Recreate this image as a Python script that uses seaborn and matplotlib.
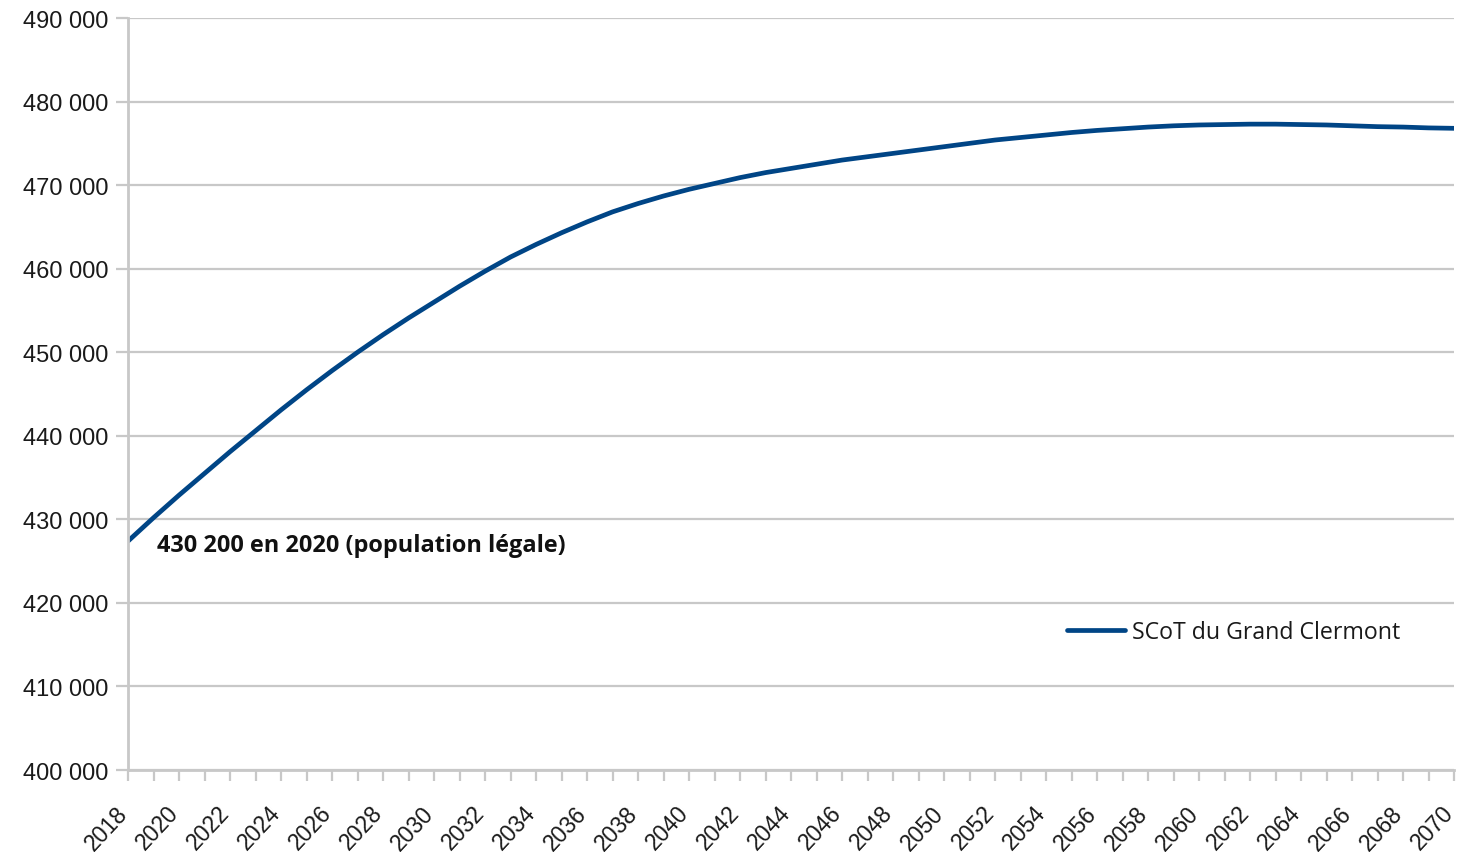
import pandas as pd
import numpy as np
import matplotlib.pyplot as plt
import matplotlib.transforms as mtransforms
import seaborn as sns
from matplotlib.ticker import FuncFormatter, MultipleLocator

years = list(range(2018, 2071))
population = [
    427400, 430200, 432900, 435500, 438100, 440600, 443100, 445500, 447800, 450000,
    452100, 454100, 456000, 457900, 459700, 461400, 462900, 464300, 465600, 466800,
    467800, 468700, 469500, 470200, 470900, 471500, 472000, 472500, 473000, 473400,
    473800, 474200, 474600, 475000, 475400, 475700, 476000, 476300, 476550, 476750,
    476950, 477100, 477200, 477250, 477300, 477300, 477250, 477200, 477100, 477000,
    476950, 476850, 476800,
]
series_name = 'SCoT du Grand Clermont'
note = '430 200 en 2020 (population légale)'

df = pd.DataFrame({'Année': years, 'Population': population, 'Série': series_name})

sns.set_style('white')
plt.rcParams['font.family'] = ['Liberation Sans', 'DejaVu Sans']

fig = plt.figure(figsize=(14.57, 8.53), dpi=100)
ax = fig.add_axes([0.0879, 0.0961, 0.9101, 0.8816])

sns.lineplot(data=df, x='Année', y='Population', hue='Série', palette=['#004586'],
             linewidth=3.4, ax=ax)

GRID = '#c8c8c8'
ax.set_xlim(2018, 2070)
ax.set_ylim(400000, 490000)
ax.yaxis.set_major_locator(MultipleLocator(10000))
ax.yaxis.set_major_formatter(FuncFormatter(lambda v, p: f'{v:,.0f}'.replace(',', ' ')))
ax.xaxis.set_major_locator(MultipleLocator(2))
ax.xaxis.set_minor_locator(MultipleLocator(1))
ax.grid(True, axis='y', color=GRID, linewidth=1.6)
ax.set_axisbelow(True)

for s in ['top', 'right']:
    ax.spines[s].set_visible(False)
for s in ['left', 'bottom']:
    ax.spines[s].set_color(GRID)
    ax.spines[s].set_linewidth(2)

ax.tick_params(axis='y', which='major', length=9, width=1.6, color=GRID, pad=5,
               labelsize=17, labelcolor='#1a1a1a', left=True)
ax.tick_params(axis='x', which='both', length=8, width=1.6, color=GRID, pad=20,
               labelsize=16.5, labelcolor='#1a1a1a', bottom=True)
shift = mtransforms.ScaledTranslation(-4 / 100, 0, fig.dpi_scale_trans)
for lab in ax.get_xticklabels():
    lab.set_rotation(47)
    lab.set_ha('right')
    lab.set_va('center')
    lab.set_rotation_mode('anchor')
    lab.set_transform(lab.get_transform() + shift)
ax.set_xlabel('')
ax.set_ylabel('')

ax.text(2019.15, 426950, note, fontsize=16.9, fontweight='bold', va='center', ha='left',
        family=['Open Sans', 'DejaVu Sans'], color='#111111')

leg = ax.legend(frameon=False, loc='center left', bbox_to_anchor=(0.708, 0.1835),
                borderpad=0, borderaxespad=0, handlelength=2.5, handletextpad=0.3,
                prop={'family': 'Open Sans', 'size': 16.7})
for t in leg.get_texts():
    t.set_color('#1a1a1a')

fig.savefig('out.png', dpi=100)
